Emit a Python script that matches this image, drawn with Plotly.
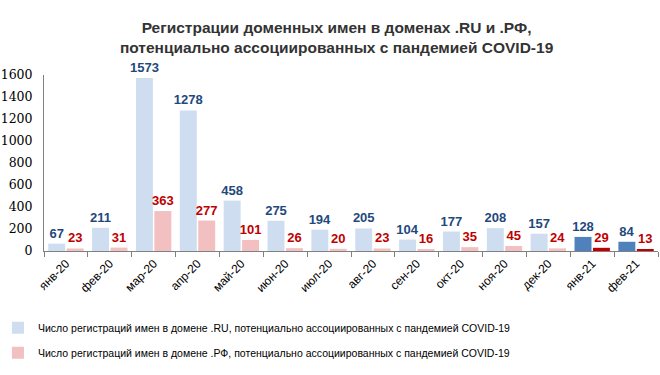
import plotly.graph_objects as go

months = ["янв-20", "фев-20", "мар-20", "апр-20", "май-20", "июн-20", "июл-20",
          "авг-20", "сен-20", "окт-20", "ноя-20", "дек-20", "янв-21", "фев-21"]
ru_values = [67, 211, 1573, 1278, 458, 275, 194, 205, 104, 177, 208, 157, 128, 84]
rf_values = [23, 31, 363, 277, 101, 26, 20, 23, 16, 35, 45, 24, 29, 13]
y_ticks = [0, 200, 400, 600, 800, 1000, 1200, 1400, 1600]

ru_name = "Число регистраций имен в домене .RU, потенциально ассоциированных с пандемией COVID-19"
rf_name = "Число регистраций имен в домене .РФ, потенциально ассоциированных с пандемией COVID-19"
title = "<b>Регистрации доменных имен в доменах .RU и .РФ,<br>потенциально ассоциированных с пандемией COVID-19</b>"

n = len(months)
solid = [i >= n - 2 for i in range(n)]

ru_color = ["#4f81bd" if s else "#cfddf0" for s in solid]
rf_color = ["#c00000" if s else "#f2c0c0" for s in solid]

fig = go.Figure()
fig.add_trace(go.Bar(
    x=months, y=ru_values, name=ru_name, legendgroup="a",
    marker=dict(color=ru_color, line=dict(width=0)),
    text=[str(v) for v in ru_values], textposition="outside",
    textfont=dict(color="#1f497d", size=13, family="Liberation Sans", weight="bold"),
    constraintext="none", cliponaxis=False,
))
fig.add_trace(go.Bar(
    x=months, y=rf_values, name=rf_name, legendgroup="b",
    marker=dict(color=rf_color, line=dict(width=0)),
    text=[str(v) for v in rf_values], textposition="outside",
    textfont=dict(color="#c00000", size=13, family="Liberation Sans", weight="bold"),
    constraintext="none", cliponaxis=False,
))

fig.update_layout(
    width=660, height=375,
    margin=dict(l=44, r=2, t=75, b=124, autoexpand=False),
    paper_bgcolor="white", plot_bgcolor="white",
    barmode="group", bargap=0.16, bargroupgap=0.08,
    title=dict(text=title, x=0.51, xanchor="center", y=0.912, yanchor="middle",
               font=dict(family="Liberation Sans", size=15.5, color="#333333")),
    showlegend=True,
    legend=dict(orientation="v", x=-0.075, xanchor="left",
                yref="container", y=0.165, yanchor="top",
                font=dict(family="Liberation Sans", size=10.5, color="#000000"),
                tracegroupgap=6, itemwidth=30, bgcolor="rgba(0,0,0,0)"),
    font=dict(family="Liberation Sans"),
)
fig.update_xaxes(
    type="category", tickangle=-45, tickson="boundaries",
    ticks="outside", ticklen=5, tickcolor="#808080",
    showline=True, linecolor="#808080", linewidth=1,
    tickfont=dict(family="Liberation Sans", size=12, color="#000000"),
    showgrid=False,
)
fig.update_yaxes(
    range=[0, 1600], tickvals=y_ticks,
    showline=True, linecolor="#808080", linewidth=1,
    showgrid=False, zeroline=False,
    tickfont=dict(family="DejaVu Serif", size=12.5, color="#000000"),
    ticks="", ticklen=0, ticklabelstandoff=8,
)

fig.write_html("out.html", config={"displayModeBar": False},
               post_script="document.body.style.margin='0';")
